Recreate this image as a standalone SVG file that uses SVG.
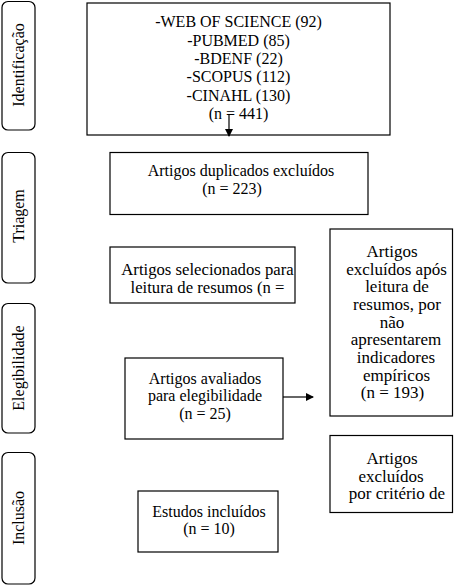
<svg xmlns="http://www.w3.org/2000/svg" width="459" height="586" viewBox="0 0 459 586">
<defs>
<style>
.box{fill:#fff;stroke:#000;stroke-width:1.2}
.side{fill:#fff;stroke:#000;stroke-width:1.2}
text{font-family:"Liberation Serif","Tinos","DejaVu Serif","Noto Serif",serif;font-size:16px;fill:#000;text-anchor:middle}
.big{font-size:17px}
.mid{font-size:16.7px}
.ln{stroke:#000;stroke-width:1.2;fill:none}
</style>
<marker id="ah" markerWidth="8" markerHeight="8" refX="7" refY="4" orient="auto" markerUnits="userSpaceOnUse">
<path d="M0,0 L8,4 L0,8 Z" fill="#000"/>
</marker>
</defs>
<rect width="459" height="586" fill="#fff"/>

<g id="stage-identificacao">
<rect class="side" x="2" y="1.5" width="33" height="128.5" rx="6"/>
<text transform="translate(24,65) rotate(-90)">Identificação</text>
</g>
<g id="stage-triagem">
<rect class="side" x="2" y="152.5" width="33" height="130.5" rx="6"/>
<text transform="translate(24,216) rotate(-90)">Triagem</text>
</g>
<g id="stage-elegibilidade">
<rect class="side" x="2" y="303.5" width="33" height="129.5" rx="6"/>
<text transform="translate(24,368) rotate(-90)">Elegibilidade</text>
</g>
<g id="stage-inclusao">
<rect class="side" x="2" y="452.5" width="33" height="131.5" rx="6"/>
<text transform="translate(24,518) rotate(-90)">Inclusão</text>
</g>

<g id="n-identificacao">
<rect class="box" x="87" y="3" width="303" height="132"/>
<text x="238.5" y="27.3">-WEB OF SCIENCE (92)</text>
<text x="238.5" y="45.7">-PUBMED (85)</text>
<text x="238.5" y="64">-BDENF (22)</text>
<text x="238.5" y="82.3">-SCOPUS (112)</text>
<text x="238.5" y="100.7">-CINAHL (130)</text>
<text x="238.5" y="119">(n = 441)</text>
</g>

<g id="n-duplicados">
<rect class="box" x="110" y="152.5" width="258" height="62"/>
<text x="241" y="176">Artigos duplicados excluídos</text>
<text x="232" y="193.5">(n = 223)</text>
</g>

<g id="n-selecionados">
<rect class="box" x="110" y="247" width="185" height="56"/>
<text class="mid" x="207.5" y="275">Artigos selecionados para</text>
<text class="mid" x="207.5" y="293">leitura de resumos (n =</text>
</g>

<g id="n-excluidos-resumos">
<rect class="box" x="330" y="229" width="122.5" height="187"/>
<text class="big" x="392" y="257">Artigos</text>
<text class="big" x="396.5" y="274.5">excluídos após</text>
<text class="big" x="397" y="292">leitura de</text>
<text class="big" x="397" y="310">resumos, por</text>
<text class="big" x="392" y="327.5">não</text>
<text class="big" x="396" y="345.3">apresentarem</text>
<text class="big" x="396" y="363">indicadores</text>
<text class="big" x="396.5" y="380.7">empíricos</text>
<text class="big" x="392.5" y="398.4">(n = 193)</text>
</g>

<g id="n-avaliados">
<rect class="box" x="125" y="358" width="158" height="81"/>
<text x="205" y="384">Artigos avaliados</text>
<text x="205" y="401">para elegibilidade</text>
<text x="205" y="418.5">(n = 25)</text>
</g>

<g id="n-excluidos-criterio">
<rect class="box" x="330" y="435.5" width="122.5" height="77"/>
<text class="big" x="392" y="464">Artigos</text>
<text class="big" x="391" y="481.7">excluídos</text>
<text class="big" x="397" y="499">por critério de</text>
</g>

<g id="n-incluidos">
<rect class="box" x="138" y="491" width="140" height="61"/>
<text x="209" y="517">Estudos incluídos</text>
<text x="209" y="533.5">(n = 10)</text>
</g>

<g id="connectors">
<line class="ln" x1="229" y1="114" x2="229" y2="136" marker-end="url(#ah)"/>
<line class="ln" x1="283" y1="397" x2="313" y2="397" marker-end="url(#ah)"/>
</g>
</svg>
